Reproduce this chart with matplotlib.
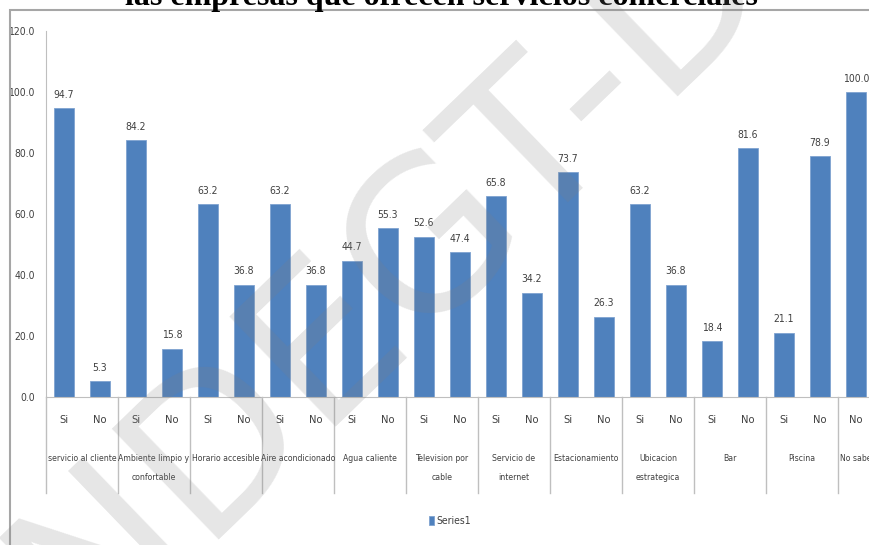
import numpy as np
import matplotlib.pyplot as plt
from matplotlib.transforms import blended_transform_factory
from matplotlib.patches import Rectangle

groups = ["servicio al cliente", "Ambiente limpio y\nconfortable", "Horario accesible",
          "Aire acondicionado", "Agua caliente", "Television por\ncable",
          "Servicio de\ninternet", "Estacionamiento", "Ubicacion\nestrategica",
          "Bar", "Piscina", "No sabe"]
group_sizes = [2, 2, 2, 2, 2, 2, 2, 2, 2, 2, 2, 1]
answers = ["Si", "No"] * 11 + ["No"]
values = [94.7, 5.3, 84.2, 15.8, 63.2, 36.8, 63.2, 36.8, 44.7, 55.3,
          52.6, 47.4, 65.8, 34.2, 73.7, 26.3, 63.2, 36.8, 18.4, 81.6,
          21.1, 78.9, 100.0]
yticks = [0, 20, 40, 60, 80, 100, 120]

plt.rcParams['font.family'] = ['DejaVu Sans']
plt.rcParams['font.stretch'] = 'condensed'
fs = 7.5
fs_group = 6.2
tc = "#404040"

W, H = 869, 545
fig = plt.figure(figsize=(W / 100, H / 100), dpi=100)

# outer chart frame
fig.patches.append(Rectangle((10 / W, -0.05), 1.0, 1 - 10 / H + 0.05, transform=fig.transFigure,
                             fill=False, edgecolor="#a6a6a6", linewidth=1.5))

# cut-off document title above the chart
fig.text(441 / W, 1 - 5 / H, "las empresas que ofrecen servicios comerciales",
         family="Liberation Serif", fontweight="bold", fontstretch="normal", fontsize=23,
         ha="center", va="baseline")

ax = fig.add_axes([46 / W, 1 - 397 / H, 828 / W, 366 / H])
x = np.arange(len(values))
bars = ax.bar(x, values, width=0.56, color="#4F81BD", edgecolor="#7fa3d0", linewidth=0.6,
              label="Series1")
for xi, v in zip(x, values):
    ax.annotate(f"{v:.1f}", (xi, v), xytext=(0, 6), textcoords="offset points",
                ha="center", va="bottom", fontsize=fs, color=tc)

ax.set_xlim(-0.5, len(values) - 0.5)
ax.set_ylim(0, 120)
ax.set_yticks(yticks)
ax.set_yticklabels([f"{t:.1f}" for t in yticks], fontsize=fs, color=tc)
ax.set_xticks(x)
ax.set_xticklabels(answers, fontsize=fs + 0.5, color=tc)
ax.tick_params(axis="x", length=0, pad=13)
ax.tick_params(axis="y", length=0, pad=8)
for s in ["top", "right"]:
    ax.spines[s].set_visible(False)
ax.spines["left"].set_color("#bfbfbf")
ax.spines["bottom"].set_color("#bfbfbf")

# group labels and separators under the axis
trans = blended_transform_factory(ax.transData, ax.transAxes)
start = 0
edges = [-0.5]
for name, n in zip(groups, group_sizes):
    center = start + (n - 1) / 2
    ax.text(center, -0.156, name, transform=trans, ha="center", va="top",
            fontsize=fs_group, color=tc, linespacing=2.35)
    start += n
    edges.append(start - 0.5)
for e in edges[:-1]:
    ax.plot([e, e], [0, -0.262], transform=trans, color="#bfbfbf", linewidth=1, clip_on=False)

fig.legend(handles=[bars], labels=["Series1"], loc="center", bbox_to_anchor=(450 / W, 1 - 521 / H),
           frameon=False, fontsize=fs, handlelength=0.5, handleheight=1.0, handletextpad=0.2,
           labelcolor=tc)

# faint diagonal watermark over the chart
fig.text(390 / W, 1 - 274 / H, "NDEGT-D", rotation=44, rotation_mode="anchor",
         ha="center", va="center", fontsize=152, color="#808080", alpha=0.2,
         family="DejaVu Sans", fontstretch="normal", zorder=10)

fig.savefig("out.png", dpi=100)
